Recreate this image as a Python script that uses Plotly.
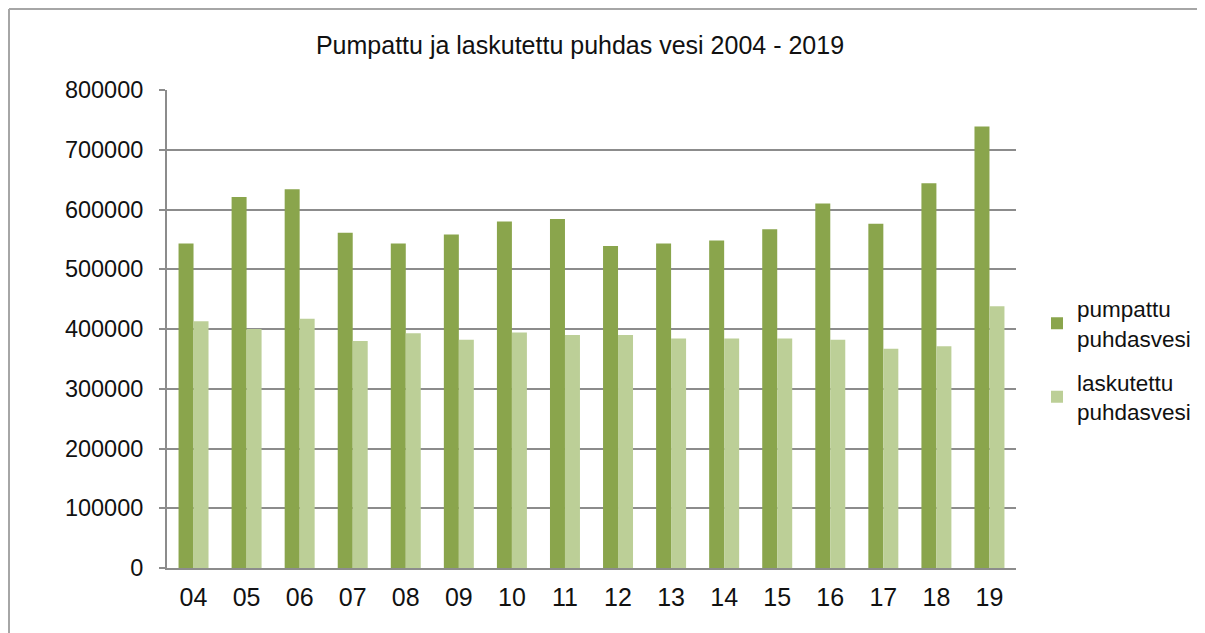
import plotly.graph_objects as go

years = ["04", "05", "06", "07", "08", "09", "10", "11",
         "12", "13", "14", "15", "16", "17", "18", "19"]
pumpattu = [543000, 621000, 634000, 561000, 543000, 558000, 580000, 584000,
            539000, 543000, 548000, 567000, 610000, 576000, 644000, 739000]
laskutettu = [413000, 400000, 417000, 380000, 393000, 382000, 394000, 390000,
              390000, 384000, 384000, 384000, 382000, 367000, 371000, 438000]
series_names = ["pumpattu<br>puhdasvesi", "laskutettu<br>puhdasvesi"]
title_text = "Pumpattu ja laskutettu puhdas vesi 2004 - 2019"
y_ticks = [0, 100000, 200000, 300000, 400000, 500000, 600000, 700000, 800000]

dark_green = "#8aa54c"
light_green = "#bccf97"
grid_col = "#8c8c8c"
border_col = "#a6a6a6"
font_family = "Liberation Sans, Arial, sans-serif"

L, R, T, B = 159, 197, 82, 73
W, H = 1205, 633
pw = W - L - R
ph = H - T - B

fig = go.Figure()
fig.add_trace(go.Bar(x=years, y=pumpattu, name=series_names[0], legendgroup="a",
                     marker=dict(color=dark_green, line=dict(width=0))))
fig.add_trace(go.Bar(x=years, y=laskutettu, name=series_names[1], legendgroup="b",
                     marker=dict(color=light_green, line=dict(width=0))))

fig.update_layout(
    width=W, height=H,
    barmode="group", bargap=0.435, bargroupgap=0,
    paper_bgcolor="white", plot_bgcolor="white",
    margin=dict(l=L, r=R, t=T, b=B, autoexpand=False),
    font=dict(family=font_family, color="#111111", size=23.5),
    title=dict(text=title_text, xref="container", x=0.4747, xanchor="center",
               yref="container", y=1 - 37 / H, yanchor="middle",
               font=dict(size=25, family=font_family, color="#111111")),
    showlegend=True,
    legend=dict(xref="container", x=1029 / W, xanchor="left",
                y=0.435, yanchor="middle",
                font=dict(size=22.5), tracegroupgap=12, itemwidth=30,
                bgcolor="rgba(0,0,0,0)"),
    xaxis=dict(showgrid=False, showline=True, linecolor=grid_col, linewidth=2,
               ticks="", ticklabelstandoff=6, tickfont=dict(size=25)),
    yaxis=dict(range=[0, 800000], tickvals=y_ticks,
               ticktext=[str(v) for v in y_ticks],
               showgrid=True, gridcolor=grid_col, gridwidth=2,
               showline=True, linecolor=grid_col, linewidth=2,
               ticks="outside", ticklen=6, tickcolor=grid_col, tickwidth=2,
               ticklabelstandoff=11,
               zeroline=False, tickfont=dict(size=23.5)),
    shapes=[
        dict(type="line", xref="paper", yref="paper",
             x0=(1 - L) / pw, x1=1.5, y0=(ph + T - 1) / ph, y1=(ph + T - 1) / ph,
             line=dict(color=border_col, width=2)),
        dict(type="line", xref="paper", yref="paper",
             x0=(1 - L) / pw, x1=(1 - L) / pw, y0=(ph + T - 1) / ph, y1=-0.3,
             line=dict(color=border_col, width=2)),
    ],
)

fig.write_html("out.html")
